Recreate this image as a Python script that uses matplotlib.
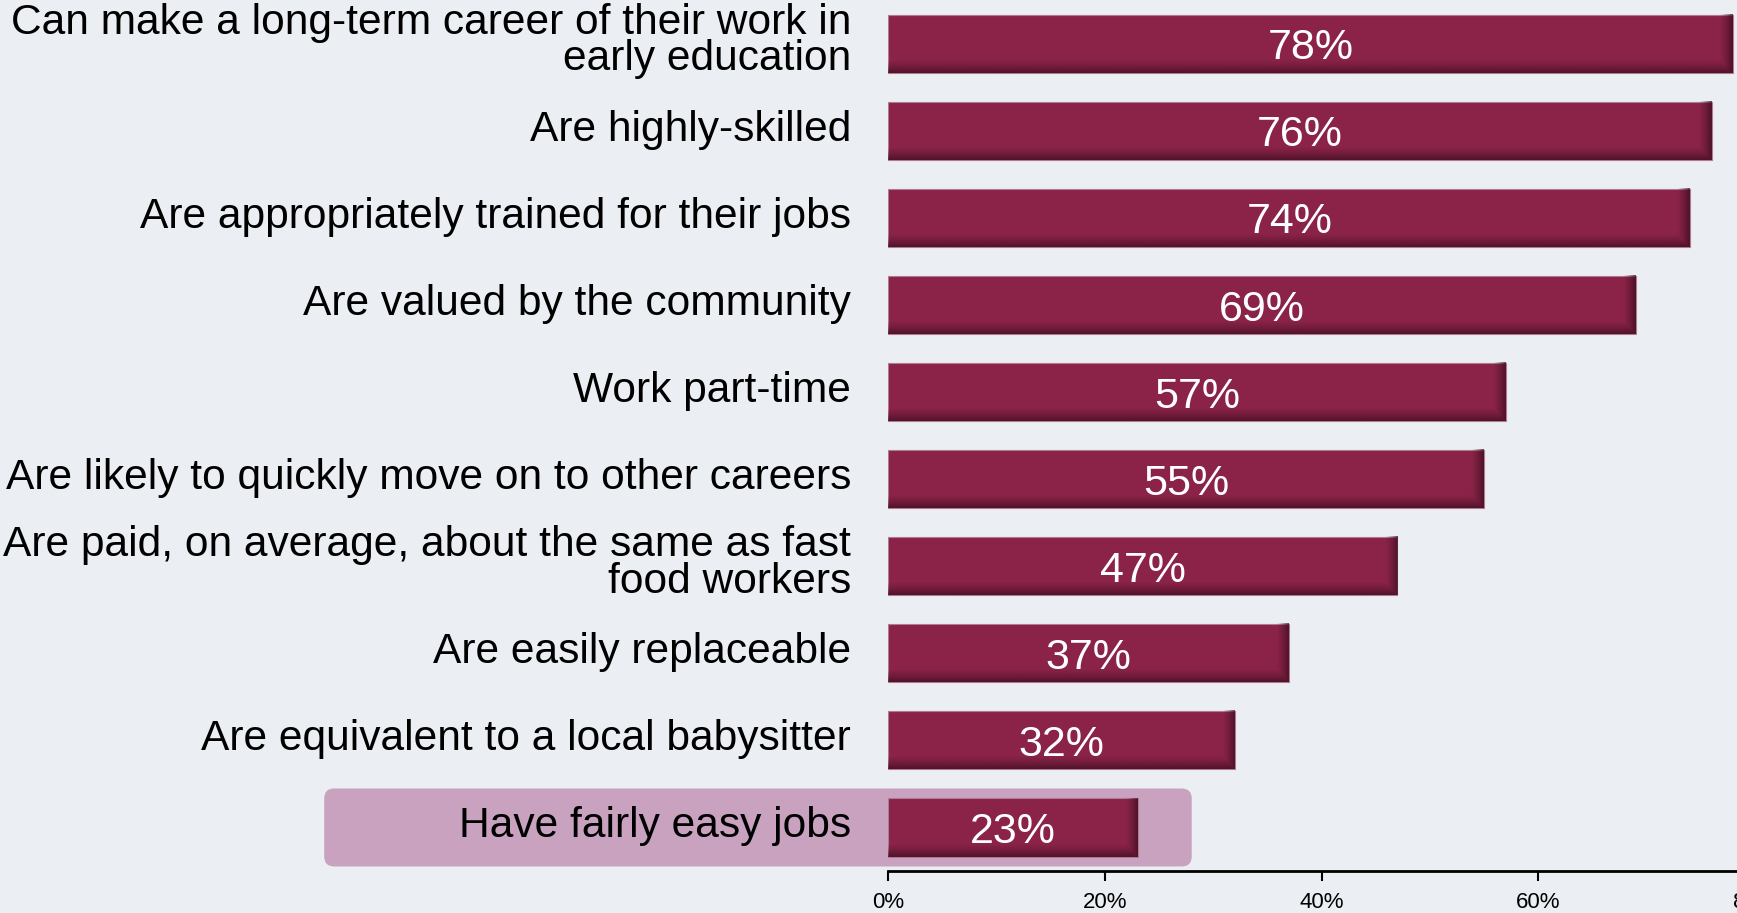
import numpy as np
import matplotlib
matplotlib.use("Agg")
import matplotlib.pyplot as plt
import matplotlib.transforms as mtransforms
from matplotlib.patches import FancyBboxPatch

# Data
categories = [
    "Can make a long-term career of their work in\nearly education",
    "Are highly-skilled",
    "Are appropriately trained for their jobs",
    "Are valued by the community",
    "Work part-time",
    "Are likely to quickly move on to other careers",
    "Are paid, on average, about the same as fast\nfood workers",
    "Are easily replaceable",
    "Are equivalent to a local babysitter",
    "Have fairly easy jobs",
]
values = [78, 76, 74, 69, 57, 55, 47, 37, 32, 23]
x_ticks = [0, 20, 40, 60, 80]
x_tick_labels = ["0%", "20%", "40%", "60%", "80%"]
highlight = "Have fairly easy jobs"

# Style
BG = "#EBEEF3"
BAR = "#8A2347"
SHADE = "#3E0E20"
HILITE = "#C9A2C0"
BAR_H = 0.667

plt.rcParams['font.family'] = ['Liberation Sans', 'DejaVu Sans']

fig = plt.figure(figsize=(17.37, 9.13), dpi=100, facecolor=BG)
ax = fig.add_axes([0.5115, 0.046, 0.4988, 0.954])
ax.set_facecolor(BG)

y = np.arange(len(values))
ax.barh(y, values, height=BAR_H, color=BAR, edgecolor="#B07A90", linewidth=0.8, zorder=2)

# bevel shading: darker toward bottom and right edge of each bar
rgb = matplotlib.colors.to_rgb(SHADE)
ny, nx = 60, 400
for yi, v in zip(y, values):
    fy = np.linspace(0, 1, ny)[:, None]
    fx = np.linspace(0, v, nx)[None, :]
    a_bot = np.clip((fy - 0.78) / 0.22, 0, 1) ** 1.3 * 0.75
    a_rt = np.clip((fx - (v - 1.1)) / 1.1, 0, 1) ** 1.3 * 0.75
    alpha = np.maximum(a_bot, a_rt)
    img = np.zeros((ny, nx, 4))
    img[..., :3] = rgb
    img[..., 3] = alpha
    ax.imshow(img, extent=(0, v, yi + BAR_H / 2, yi - BAR_H / 2),
              aspect="auto", interpolation="bilinear", zorder=3)

for yi, v in zip(y, values):
    ax.text(v / 2, yi + 0.05, f"{v}%", color="white", fontsize=31,
            ha="center", va="center", zorder=4)

# highlight box behind the last category
hi = categories.index(highlight)
box = FancyBboxPatch((-52.1, hi - 0.448), 80.1, 0.896,
                     boxstyle="round,pad=0,rounding_size=0.92",
                     mutation_aspect=0.1244, facecolor=HILITE,
                     edgecolor="none", clip_on=False, zorder=0)
ax.add_patch(box)

ax.set_xlim(0, 80)
ax.set_ylim(9.5, -0.506)
ax.set_yticks(y)
ax.set_yticklabels(categories, fontsize=30.6, linespacing=0.88)
ax.set_xticks(x_ticks)
ax.set_xticklabels(x_tick_labels, fontsize=16)
ax.tick_params(axis="y", length=0, pad=27)
ax.tick_params(axis="x", length=7, width=1.5, pad=8, direction="out")

# nudge category labels up a little
shift = mtransforms.ScaledTranslation(0, 5.5 / 100, fig.dpi_scale_trans)
for lab in ax.get_yticklabels():
    lab.set_transform(lab.get_transform() + shift)

for s in ["top", "right", "left"]:
    ax.spines[s].set_visible(False)
ax.spines["bottom"].set_linewidth(2)

fig.savefig("out.png", dpi=100, facecolor=BG)
